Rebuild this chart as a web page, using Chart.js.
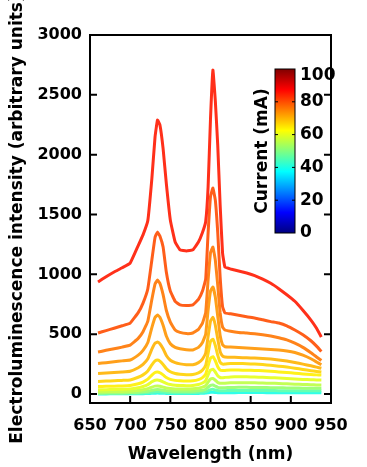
<!DOCTYPE html>
<html>
<head>
<meta charset="utf-8">
<script src="https://cdn.jsdelivr.net/npm/chart.js@4.4.1/dist/chart.umd.min.js"></script>
<style>
	body { margin: 0; background: #fff; }
	canvas { display: block; }
</style>
</head>
<body>
<canvas id="el-chart" width="367" height="467"></canvas>
<script>
// wavelength grid (nm), shared by every spectrum
var wavelengths = [660, 670, 680, 690, 700, 710, 716, 722, 727, 731, 734, 737, 741, 745, 750, 756, 762, 770, 778, 785, 790, 794, 797, 800, 803, 806, 809, 812, 815, 818, 825, 835, 845, 855, 865, 875, 885, 895, 905, 915, 925, 932, 938];

// drive current of each spectrum (mA), highest first
var currents = [85, 80, 76, 73, 70, 67, 64, 60, 56, 52, 46, 40];

// electroluminescence intensity
var el85 = [936, 980, 1020, 1055, 1094, 1240, 1330, 1450, 1800, 2150, 2289, 2250, 2050, 1760, 1453, 1270, 1205, 1195, 1205, 1270, 1350, 1440, 1729, 2300, 2707, 2450, 2080, 1580, 1180, 1060, 1045, 1028, 1011, 990, 960, 925, 880, 830, 775, 700, 618, 550, 476];
var el80 = [510, 530, 550, 570, 593, 680, 760, 880, 1120, 1310, 1353, 1320, 1228, 1020, 860, 775, 745, 740, 745, 790, 860, 960, 1345, 1650, 1721, 1620, 1350, 977, 730, 677, 670, 658, 645, 635, 620, 605, 593, 570, 535, 495, 445, 400, 355];
var el76 = [351, 365, 378, 392, 409, 465, 520, 610, 790, 920, 952, 925, 830, 700, 600, 535, 515, 505, 510, 540, 593, 680, 952, 1180, 1228, 1119, 910, 680, 560, 535, 525, 515, 510, 503, 495, 485, 470, 452, 425, 390, 345, 310, 280];
var el73 = [255, 262, 270, 277, 284, 325, 365, 430, 555, 640, 660, 642, 575, 485, 420, 390, 378, 370, 368, 390, 430, 500, 700, 860, 894, 810, 650, 490, 412, 395, 392, 388, 384, 380, 377, 373, 368, 360, 347, 325, 295, 268, 245];
var el70 = [172, 176, 180, 184, 190, 220, 248, 295, 375, 425, 434, 420, 378, 322, 282, 262, 252, 245, 245, 262, 292, 342, 480, 610, 640, 575, 460, 355, 318, 310, 308, 305, 303, 300, 297, 292, 285, 276, 264, 250, 236, 225, 215];
var el67 = [105, 108, 111, 114, 118, 140, 160, 193, 243, 276, 284, 275, 247, 212, 186, 172, 166, 162, 163, 177, 200, 240, 340, 440, 458, 405, 325, 265, 250, 250, 255, 255, 253, 250, 246, 240, 233, 225, 216, 205, 195, 189, 184];
var el64 = [62, 64, 66, 68, 72, 86, 100, 124, 158, 180, 184, 178, 160, 138, 123, 114, 110, 108, 110, 120, 137, 166, 235, 300, 312, 278, 228, 200, 196, 197, 200, 200, 199, 197, 194, 190, 185, 180, 174, 168, 163, 160, 158];
var el60 = [35, 36, 38, 40, 43, 53, 63, 79, 102, 115, 117, 113, 102, 89, 79, 73, 71, 70, 72, 80, 92, 112, 160, 200, 207, 184, 152, 138, 137, 139, 143, 144, 144, 142, 140, 137, 133, 129, 125, 122, 120, 118, 117];
var el56 = [19, 20, 21, 22, 24, 30, 36, 45, 58, 66, 68, 65, 58, 51, 46, 43, 42, 42, 44, 49, 57, 70, 100, 125, 130, 115, 97, 90, 90, 91, 94, 95, 95, 94, 92, 90, 88, 85, 82, 80, 78, 76, 75];
var el52 = [9, 10, 10, 11, 12, 15, 18, 23, 31, 36, 38, 36, 32, 28, 25, 23, 23, 23, 24, 27, 32, 40, 57, 72, 75, 66, 56, 52, 52, 53, 55, 56, 56, 55, 54, 53, 52, 51, 50, 49, 48, 48, 48];
var el46 = [4, 4, 5, 5, 6, 7, 9, 11, 15, 18, 19, 18, 16, 14, 12, 11, 11, 11, 12, 14, 16, 20, 29, 37, 39, 34, 29, 27, 27, 28, 29, 30, 30, 30, 29, 29, 28, 28, 27, 27, 27, 27, 27];
var el40 = [1, 1, 2, 2, 2, 3, 3, 4, 6, 7, 8, 7, 6, 5, 5, 4, 4, 4, 5, 5, 6, 8, 11, 14, 15, 13, 11, 10, 10, 11, 11, 12, 12, 12, 12, 11, 11, 11, 11, 11, 11, 11, 11];
var spectra = [el85, el80, el76, el73, el70, el67, el64, el60, el56, el52, el46, el40];

var xTicks = [650, 700, 750, 800, 850, 900, 950];
var yTicks = [0, 500, 1000, 1500, 2000, 2500, 3000];
var barTicks = [0, 20, 40, 60, 80, 100];

// matlab style "jet" colour map, t from 0 to 1
function jet(t) {
	function ramp(x) { return Math.max(0, Math.min(1, x)); }
	var r = ramp(Math.min(4 * t - 1.5, -4 * t + 4.5));
	var g = ramp(Math.min(4 * t - 0.5, -4 * t + 3.5));
	var b = ramp(Math.min(4 * t + 0.5, -4 * t + 2.5));
	return [r, g, b];
}
function jetColor(t, fade) {
	var c = jet(t).map(function (v) { return Math.round((v * (1 - fade) + fade) * 255); });
	return 'rgb(' + c[0] + ',' + c[1] + ',' + c[2] + ')';
}

var bold = function (size) { return { family: '"DejaVu Sans", Arial, sans-serif', size: size, weight: 'bold' }; };

var datasets = spectra.map(function (values, i) {
	return {
		label: currents[i] + ' mA',
		data: values.map(function (v, j) { return { x: wavelengths[j], y: v }; }),
		borderColor: jetColor(currents[i] / 100, 0.1),
		borderWidth: 3,
		pointRadius: 0,
		tension: 0.1,
		fill: false
	};
});

// frame with inward ticks, plus the current colour bar
var framePlugin = {
	id: 'frame',
	afterDatasetsDraw: function (chart) {
		var ctx = chart.ctx;
		var a = chart.chartArea;
		var sx = chart.scales.x;
		var sy = chart.scales.y;
		ctx.save();

		// colour bar
		var bx = a.right - 56, bw = 20, bTop = a.top + 34, bBot = a.top + 198;
		var grad = ctx.createLinearGradient(0, bBot, 0, bTop);
		for (var k = 0; k <= 16; k++) grad.addColorStop(k / 16, jetColor(k / 16, 0));
		ctx.fillStyle = grad;
		ctx.fillRect(bx, bTop, bw, bBot - bTop);
		ctx.strokeStyle = '#000';
		ctx.lineWidth = 1;
		ctx.strokeRect(bx, bTop, bw, bBot - bTop);
		ctx.beginPath();
		ctx.font = 'bold 17px "DejaVu Sans", Arial, sans-serif';
		ctx.fillStyle = '#000';
		ctx.textAlign = 'left';
		ctx.textBaseline = 'middle';
		barTicks.forEach(function (v) {
			var py = bBot - v / 100 * (bBot - bTop);
			if (v > 0 && v < 100) {
				ctx.moveTo(bx, py); ctx.lineTo(bx + 3, py);
				ctx.moveTo(bx + bw, py); ctx.lineTo(bx + bw - 3, py);
			}
			ctx.fillText(String(v), bx + bw + 5, Math.max(py, bTop + 7));
		});
		ctx.stroke();
		ctx.save();
		ctx.translate(bx - 12, (bTop + bBot) / 2);
		ctx.rotate(-Math.PI / 2);
		ctx.textAlign = 'center';
		ctx.fillText('Current (mA)', 0, 0);
		ctx.restore();

		// plot frame
		ctx.lineWidth = 2;
		ctx.strokeRect(a.left, a.top, a.right - a.left, a.bottom - a.top);
		ctx.beginPath();
		yTicks.forEach(function (v) {
			var py = sy.getPixelForValue(v);
			ctx.moveTo(a.left, py); ctx.lineTo(a.left + 7, py);
			ctx.moveTo(a.right, py); ctx.lineTo(a.right - 7, py);
		});
		xTicks.forEach(function (v) {
			var px = sx.getPixelForValue(v);
			ctx.moveTo(px, a.bottom); ctx.lineTo(px, a.bottom - 7);
		});
		ctx.stroke();
		ctx.restore();
	}
};

var elChart = new Chart(document.getElementById('el-chart'), {
	type: 'line',
	data: { datasets: datasets },
	options: {
		responsive: false,
		animation: false,
		layout: { padding: { top: 35, right: 36, bottom: 0, left: 0 } },
		plugins: { legend: { display: false }, tooltip: { enabled: false } },
		scales: {
			x: {
				type: 'linear',
				min: 650,
				max: 950,
				afterBuildTicks: function (s) { s.ticks = xTicks.map(function (v) { return { value: v }; }); },
				afterFit: function (s) { s.height = 64; },
				grid: { display: false, drawTicks: false },
				border: { display: false },
				ticks: { font: bold(16), color: '#000', padding: 13, maxRotation: 0, autoSkip: false, callback: function (v) { return String(v); } },
				title: { display: true, text: 'Wavelength (nm)', font: bold(17), color: '#000', padding: { top: 0, bottom: 2 } }
			},
			y: {
				min: -75,
				max: 3000,
				afterBuildTicks: function (s) { s.ticks = yTicks.map(function (v) { return { value: v }; }); },
				afterFit: function (s) { s.width = 90; },
				grid: { display: false, drawTicks: false },
				border: { display: false },
				ticks: { font: bold(16), color: '#000', padding: 8, callback: function (v) { return String(v); } },
				title: { display: true, text: 'Electroluminescence intensity (arbitrary units)', font: bold(17), color: '#000', padding: { top: 7, bottom: 0 } }
			}
		}
	},
	plugins: [framePlugin]
});
</script>
</body>
</html>
